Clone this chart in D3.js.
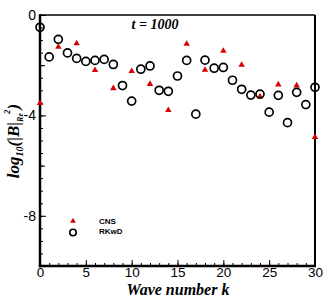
<!DOCTYPE html>
<html>
<head>
<meta charset="utf-8">
<script src="https://cdn.jsdelivr.net/npm/d3@7"></script>
<style>
  body { margin: 0; background: #fff; }
  svg { display: block; }
</style>
</head>
<body>
<svg id="chart"></svg>
<script>
// data
const rkwdK = d3.range(0, 31)
const rkwdVal = [-0.49, -1.67, -0.97, -1.51, -1.73, -1.85, -1.81, -1.77, -1.97, -2.81,
  -3.43, -2.16, -2.03, -3.0, -3.04, -2.43, -1.81, -3.95, -1.8, -2.12,
  -2.09, -2.6, -2.96, -3.19, -3.15, -3.87, -3.2, -4.29, -3.08, -3.57, -2.88]
const cnsK = [0, 2, 4, 6, 8, 10, 12, 14, 16, 18, 20, 22, 24, 26, 28, 30]
const cnsVal = [-3.51, -1.27, -1.13, -2.2, -2.92, -2.24, -2.75, -3.79, -1.15, -2.19,
  -1.43, -1.99, -3.25, -2.77, -2.81, -4.87]
const xTicks = [0, 5, 10, 15, 20, 25, 30]
const yTicks = [0, -4, -8]
const seriesNames = ["CNS", "RKwD"]

const width = 332
const height = 296
const margin = { top: 15, right: 17, bottom: 30, left: 40 }

const svg = d3.select("#chart")
    .attr("width", width)
    .attr("height", height)

const x = d3.scaleLinear()
  .domain([0, 30])
  .range([margin.left, width - margin.right])

const y = d3.scaleLinear()
  .domain([-10, 0])
  .range([height - margin.bottom, margin.top])

// minor ticks (inside)
svg.append("g")
    .attr("transform", `translate(0,${height - margin.bottom})`)
    .call(d3.axisBottom(x).tickValues(d3.range(0, 31)).tickSize(-3).tickFormat(""))
    .call(g => g.select(".domain").remove())
svg.append("g")
    .attr("transform", `translate(${margin.left},0)`)
    .call(d3.axisLeft(y).tickValues(d3.range(-10, 0.01, 0.5)).tickSize(-3).tickFormat(""))
    .call(g => g.select(".domain").remove())
svg.append("g")
    .attr("transform", `translate(${margin.left},0)`)
    .call(d3.axisLeft(y).tickValues([-2, -6]).tickSize(-5).tickFormat(""))
    .call(g => g.select(".domain").remove())

// major ticks with labels
svg.append("g")
    .attr("transform", `translate(0,${height - margin.bottom})`)
    .call(d3.axisBottom(x).tickValues(xTicks).tickSize(-6).tickPadding(1).tickFormat(d => String(d)))
    .call(g => g.select(".domain").remove())
    .call(g => g.selectAll("text")
      .attr("font-family", "Liberation Sans, Arial, sans-serif")
      .attr("font-size", 13.5)
      .attr("fill", "#000"))
svg.append("g")
    .attr("transform", `translate(${margin.left},0)`)
    .call(d3.axisLeft(y).tickValues(yTicks).tickSize(-6).tickPadding(4).tickFormat(d => String(d)))
    .call(g => g.select(".domain").remove())
    .call(g => g.selectAll("text")
      .attr("font-family", "Liberation Sans, Arial, sans-serif")
      .attr("font-size", 14)
      .attr("fill", "#000"))

svg.selectAll(".tick line").attr("stroke", "#000").attr("stroke-width", 1)

// frame
const x0 = x(0), x1 = x(30), y0 = y(-10), y1 = y(0)
svg.append("line").attr("x1", x0).attr("x2", x1).attr("y1", y1).attr("y2", y1)
    .attr("stroke", "#000").attr("stroke-width", 1.5)
svg.append("line").attr("x1", x1).attr("x2", x1).attr("y1", y1).attr("y2", y0)
    .attr("stroke", "#000").attr("stroke-width", 2)
svg.append("line").attr("x1", x0).attr("x2", x0).attr("y1", y1 - 0.75).attr("y2", y0 + 1.25)
    .attr("stroke", "#000").attr("stroke-width", 2.5)
svg.append("line").attr("x1", x0 - 1.25).attr("x2", x1 + 1).attr("y1", y0).attr("y2", y0)
    .attr("stroke", "#000").attr("stroke-width", 2.5)

// markers
const tri = d3.symbol().type(d3.symbolTriangle).size(18)

svg.append("g")
  .selectAll("path")
  .data(cnsK)
  .join("path")
    .attr("d", tri)
    .attr("transform", (d, i) => `translate(${x(d)},${y(cnsVal[i])})`)
    .attr("fill", "#d60000")

svg.append("g")
  .selectAll("circle")
  .data(rkwdK)
  .join("circle")
    .attr("cx", d => x(d))
    .attr("cy", (d, i) => y(rkwdVal[i]))
    .attr("r", 4)
    .attr("fill", "none")
    .attr("stroke", "#000")
    .attr("stroke-width", 1.7)

// legend
const legend = svg.append("g")
legend.append("path")
    .attr("d", d3.symbol().type(d3.symbolTriangle).size(14))
    .attr("transform", "translate(73,221)")
    .attr("fill", "#d60000")
legend.append("circle")
    .attr("cx", 73).attr("cy", 232.5).attr("r", 3.2)
    .attr("fill", "none").attr("stroke", "#000").attr("stroke-width", 1.6)
legend.selectAll("text")
  .data(seriesNames)
  .join("text")
    .attr("x", 99)
    .attr("y", (d, i) => 223.5 + i * 10.5)
    .attr("font-family", "Liberation Sans, Arial, sans-serif")
    .attr("font-size", 8)
    .attr("font-weight", "bold")
    .text(d => d)

// titles
svg.append("text")
    .attr("x", 155).attr("y", 29)
    .attr("text-anchor", "middle")
    .attr("font-family", "Liberation Serif, Times New Roman, serif")
    .attr("font-style", "italic").attr("font-weight", "bold")
    .attr("font-size", 14)
    .text("t = 1000")

svg.append("text")
    .attr("x", 178).attr("y", 294.5)
    .attr("text-anchor", "middle")
    .attr("font-family", "Liberation Serif, Times New Roman, serif")
    .attr("font-style", "italic").attr("font-weight", "bold")
    .attr("font-size", 16)
    .text("Wave number k")

const ylab = svg.append("text")
    .attr("transform", "translate(19,141) rotate(-90)")
    .attr("text-anchor", "middle")
    .attr("font-family", "Liberation Serif, Times New Roman, serif")
    .attr("font-style", "italic").attr("font-weight", "bold")
    .attr("font-size", 17)
ylab.append("tspan").text("log")
ylab.append("tspan").attr("font-size", 10).attr("dy", 4).text("10")
ylab.append("tspan").attr("dy", -4).text("(|B|")
ylab.append("tspan").attr("font-size", 8).attr("dy", 4).text("Re")
ylab.append("tspan").attr("font-size", 9).attr("dy", -13).attr("dx", -1).text("2")
ylab.append("tspan").attr("dy", 9).text(")")
</script>
</body>
</html>
